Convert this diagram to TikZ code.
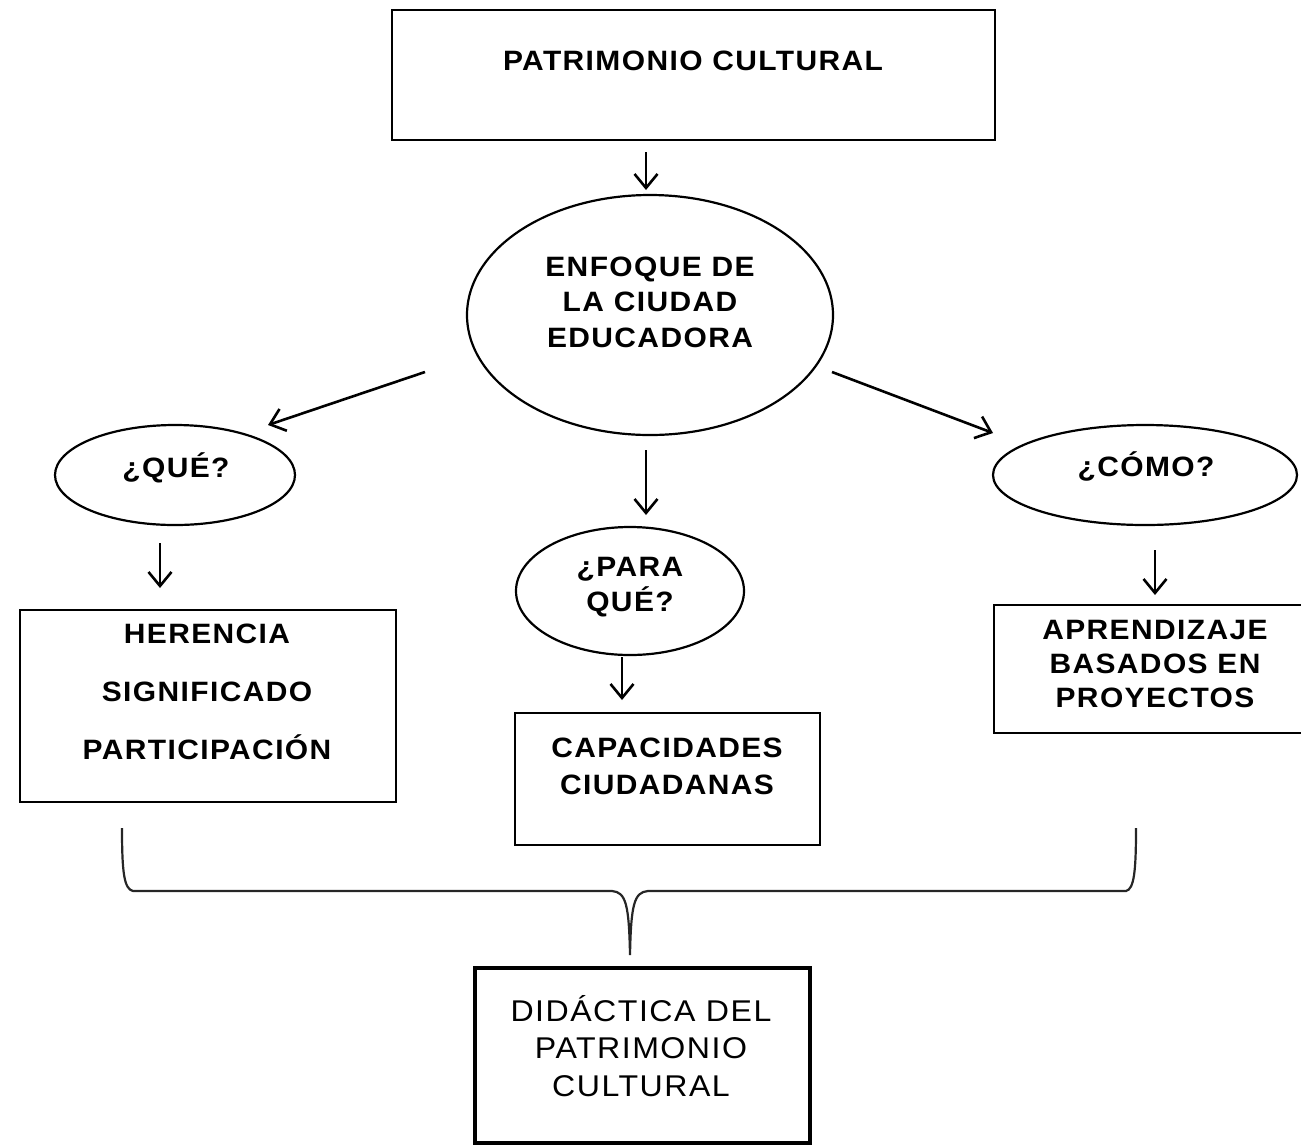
\documentclass[tikz,border=0pt]{standalone}
\usepackage{fontspec}
\setmainfont{Liberation Sans}[LetterSpace=5,FakeStretch=1.07]
\usetikzlibrary{arrows.meta,shapes.geometric}
\begin{document}
\begin{tikzpicture}[x=0.5pt,y=-0.5pt,
  lbl/.style={font=\bfseries\fontsize{14}{17.5}\selectfont, align=center, inner sep=0pt, text=black},
  box/.style={draw, line width=1.1pt, rectangle, inner sep=0pt},
  ell/.style={draw, line width=1.1pt, ellipse, inner sep=0pt},
  arr/.style={line width=1.3pt, -{Straight Barb[length=7pt,width=11.5pt,line width=1.3pt]}},
  brace/.style={line width=1.1pt, draw=black!85}
]
\useasboundingbox (0,0) rectangle (1301,1147);

% shapes
\node[box, minimum width=301.5pt, minimum height=65pt] (top) at (693.5,75) {};
\node[ell, minimum width=183pt, minimum height=120pt] (enf) at (650,315) {};
\node[ell, minimum width=120pt, minimum height=50pt] (que) at (175,475) {};
\node[ell, minimum width=152pt, minimum height=50pt] (como) at (1145,475) {};
\node[ell, minimum width=114pt, minimum height=64pt] (para) at (630,591) {};
\node[box, minimum width=188pt, minimum height=96pt] (left) at (208,706) {};
\node[box, minimum width=152.5pt, minimum height=66pt] (mid) at (667.5,779) {};
\node[box, minimum width=154.5pt, minimum height=64pt] (right) at (1148.5,669) {};
\node[box, line width=2.2pt, minimum width=167.5pt, minimum height=87.5pt] (bot) at (642.5,1055.5) {};

% texts
\node[lbl] (topT) at (693,61) {PATRIMONIO CULTURAL};
\node[lbl, font=\bfseries\fontsize{14}{17.75}\selectfont] (enfT) at (650,302) {ENFOQUE DE\\LA CIUDAD\\EDUCADORA};
\node[lbl] (queT) at (176,468) {¿QUÉ?};
\node[lbl] (comoT) at (1146,466) {¿CÓMO?};
\node[lbl] (paraT) at (630,587) {¿PARA\\QUÉ?};
\node[lbl, font=\bfseries\fontsize{14}{29}\selectfont] (leftT) at (207,692) {HERENCIA\\SIGNIFICADO\\PARTICIPACIÓN};
\node[lbl, font=\bfseries\fontsize{14}{18.5}\selectfont] (midT) at (667,766) {CAPACIDADES\\CIUDADANAS};
\node[lbl, font=\bfseries\fontsize{14}{17}\selectfont] (rightT) at (1155,664) {APRENDIZAJE\\BASADOS EN\\PROYECTOS};
\node[lbl, font=\fontsize{15}{18.75}\selectfont] (botT) at (641,1046) {DIDÁCTICA DEL\\PATRIMONIO\\CULTURAL};

% arrow end points
\coordinate (a1s) at (646,152); \coordinate (a1e) at (646,190);
\coordinate (a2s) at (425,372); \coordinate (a2e) at (268,425);
\coordinate (a3s) at (832,372); \coordinate (a3e) at (993,433);
\coordinate (a4s) at (646,450); \coordinate (a4e) at (646,515);
\coordinate (a5s) at (160,543); \coordinate (a5e) at (160,588);
\coordinate (a6s) at (1155,550); \coordinate (a6e) at (1155,595);
\coordinate (a7s) at (622,657); \coordinate (a7e) at (622,700);

\draw[arr] (a1s) -- (a1e);
\draw[arr] (a2s) -- (a2e);
\draw[arr] (a3s) -- (a3e);
\draw[arr] (a4s) -- (a4e);
\draw[arr] (a5s) -- (a5e);
\draw[arr] (a6s) -- (a6e);
\draw[arr] (a7s) -- (a7e);

% brace
\coordinate (bl) at (122,828);
\coordinate (br) at (1136,828);
\coordinate (btip) at (630,955);
\draw[brace] (bl) .. controls (122,872) and (124,889) .. (133,891)
  -- (612,891) .. controls (626,892) and (629,905) .. (btip)
  .. controls (631,905) and (634,892) .. (648,891)
  -- (1126,891) .. controls (1134,889) and (1136,872) .. (br);
\end{tikzpicture}
\end{document}
